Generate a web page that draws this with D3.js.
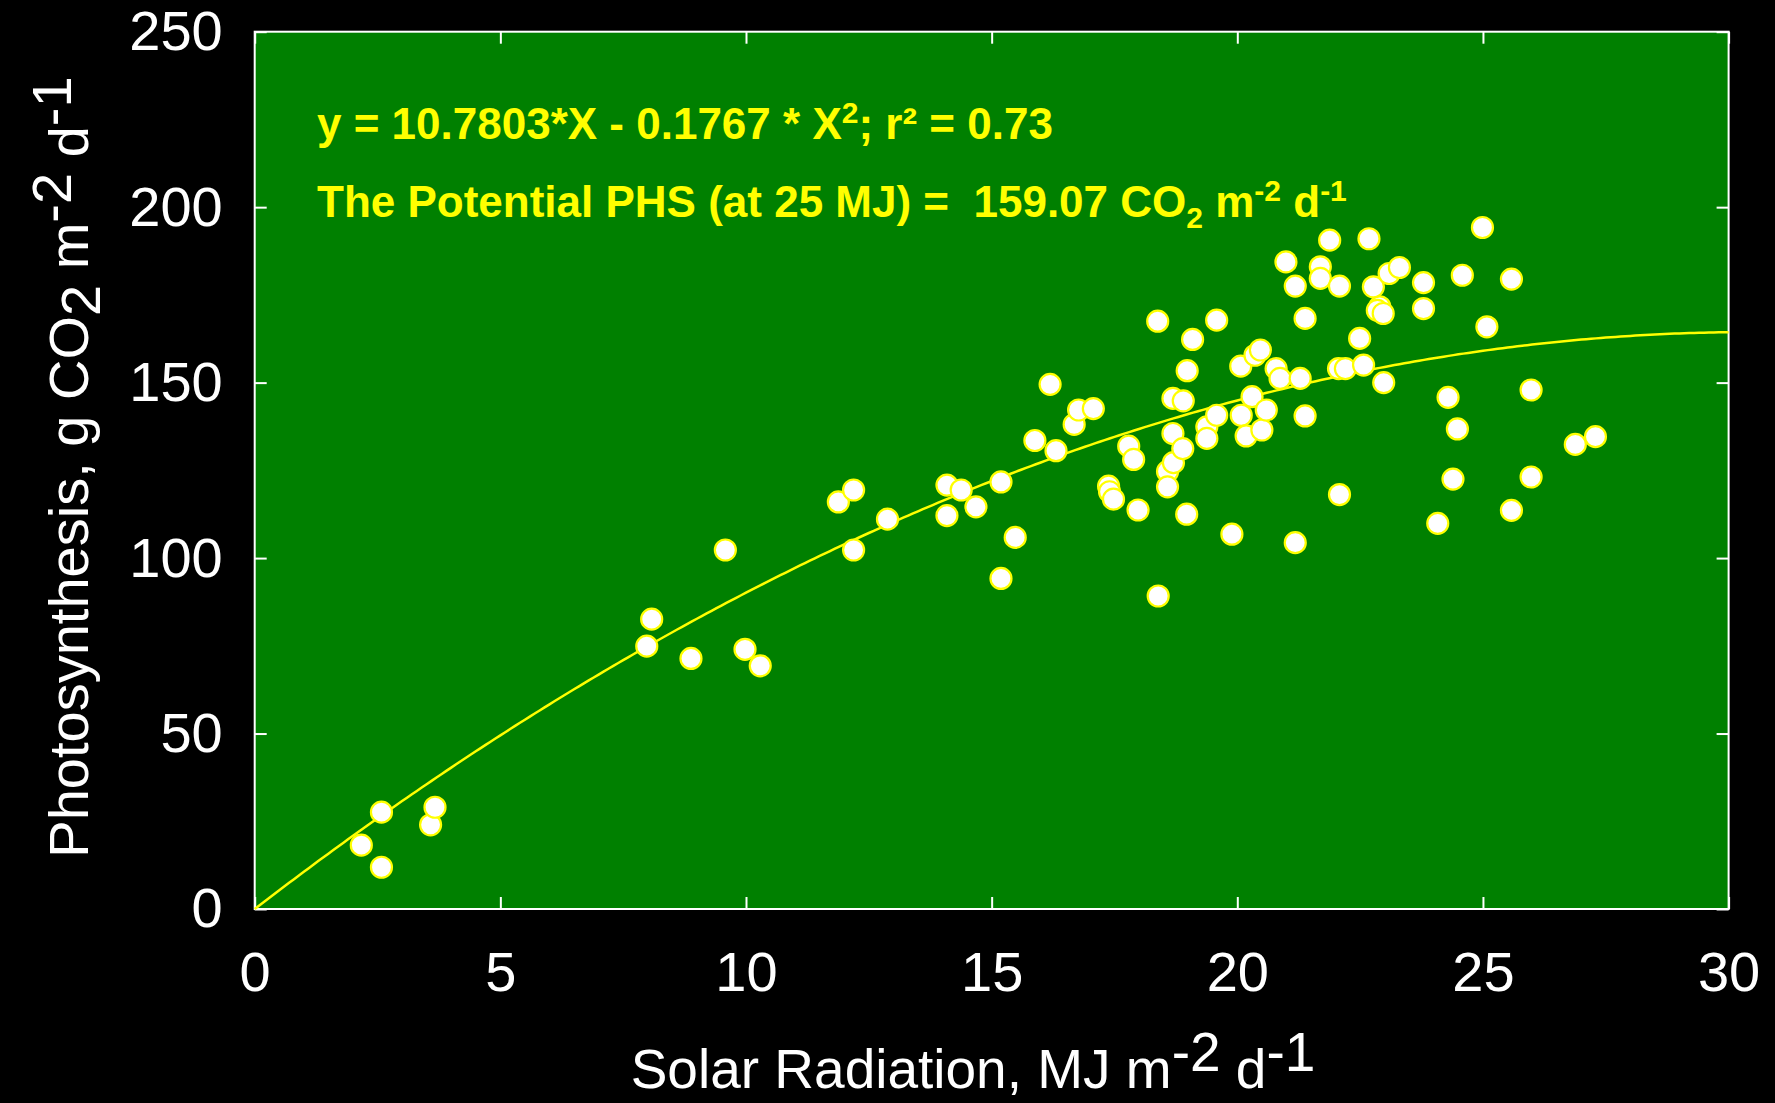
<!DOCTYPE html>
<html>
<head>
<meta charset="utf-8">
<script src="https://cdn.jsdelivr.net/npm/d3@7"></script>
<style>
  html, body { margin: 0; padding: 0; background: #000; }
  svg { display: block; }
  text { font-family: "Liberation Sans", Arial, sans-serif; }
</style>
</head>
<body>
<script>
// ---- Data ----
const solarRadiation = [
  2.17, 2.58, 2.58, 3.58, 3.67,
  7.98, 8.08, 8.88, 9.58, 9.98, 10.29,
  11.88, 12.19, 12.19, 12.88,
  14.09, 14.09, 14.38, 14.68, 15.19, 15.19, 15.48,
  15.88, 16.19, 16.31, 16.68, 16.77, 17.07,
  17.38, 17.40, 17.48, 17.79, 17.89, 17.98,
  18.38, 18.39, 18.58, 18.58, 18.70, 18.69, 18.69, 18.90, 18.89, 18.97, 18.98, 19.09,
  19.38, 19.38, 19.58, 19.58, 19.89,
  20.07, 20.08, 20.18, 20.30, 20.36, 20.47, 20.50, 20.59, 20.79, 20.87,
  20.99, 21.18, 21.18, 21.28, 21.38, 21.38,
  21.69, 21.69, 21.88, 22.08, 22.06, 22.08, 22.20, 22.49, 22.57, 22.68, 22.77,
  22.90, 22.85, 22.97, 22.98, 23.09, 23.30, 23.79, 23.79,
  24.08, 24.29, 24.39, 24.48, 24.58, 24.99, 25.08, 25.58, 25.58,
  25.98, 25.98, 26.88, 27.29
];
const photosynthesis = [
  18.2, 27.6, 11.9, 24.0, 29.0,
  74.9, 82.6, 71.4, 102.3, 74.0, 69.3,
  116.0, 119.4, 102.3, 111.1,
  120.8, 112.1, 119.4, 114.6, 121.7, 94.2, 105.9,
  133.5, 149.5, 130.6, 138.1, 142.2, 142.6,
  120.5, 118.9, 116.8, 131.9, 128.1, 113.7,
  167.5, 89.2, 124.7, 120.3, 127.2, 135.5, 145.5, 144.8, 131.2, 112.5, 153.4, 162.3,
  137.4, 134.1, 140.7, 167.8, 106.8,
  154.7, 140.7, 134.8, 146.0, 157.8, 159.3, 136.5, 142.2, 154.0, 151.2,
  184.4, 177.5, 104.4, 151.2, 168.3, 140.5,
  183.0, 179.7, 190.6, 177.5, 154.0, 118.1, 154.0, 162.6, 155.0, 191.0, 177.3,
  171.6, 170.6, 169.7, 150.0, 181.1, 182.8, 178.5, 171.1,
  109.9, 145.8, 122.5, 136.8, 180.6, 194.2, 165.9, 179.5, 113.6,
  147.9, 123.1, 132.4, 134.6
];
const xTicks = [0, 5, 10, 15, 20, 25, 30];
const yTicks = [0, 50, 100, 150, 200, 250];
const fitA = 10.7803;   // linear coefficient
const fitB = -0.1767;   // quadratic coefficient
const fitDomain = [0, 30];

// ---- Layout ----
const W = 1775, H = 1103;
const plot = { left: 254.7, right: 1728.6, top: 31.7, bottom: 909 };

const svg = d3.select("body").append("svg").attr("width", W).attr("height", H);
svg.append("rect").attr("width", W).attr("height", H).attr("fill", "#000");

const x = d3.scaleLinear().domain([0, 30]).range([plot.left, plot.right]);
const y = d3.scaleLinear().domain([0, 250]).range([plot.bottom, plot.top]);

// plot background
svg.append("rect")
  .attr("x", plot.left).attr("y", plot.top)
  .attr("width", plot.right - plot.left).attr("height", plot.bottom - plot.top)
  .attr("fill", "#008000");

// axes
const tickLen = 12;
function styleAxis(g) {
  g.select(".domain").remove();
  g.selectAll(".tick line").attr("stroke", "#fff").attr("stroke-width", 2);
  g.selectAll(".tick text").attr("fill", "#fff").style("font-size", "56px")
    .style("font-family", "'Liberation Sans', Arial, sans-serif");
}
svg.append("g").attr("transform", `translate(0,${plot.bottom})`)
  .call(d3.axisBottom(x).tickValues(xTicks).tickSize(-tickLen).tickPadding(42).tickFormat(d3.format("d")))
  .call(styleAxis);
svg.append("g").attr("transform", `translate(0,${plot.top})`)
  .call(d3.axisTop(x).tickValues(xTicks).tickSize(-tickLen).tickFormat(""))
  .call(styleAxis);
svg.append("g").attr("transform", `translate(${plot.left},0)`)
  .call(d3.axisLeft(y).tickValues(yTicks).tickSize(-tickLen).tickPadding(32).tickFormat(d3.format("d")))
  .call(styleAxis);
svg.append("g").attr("transform", `translate(${plot.right},0)`)
  .call(d3.axisRight(y).tickValues(yTicks).tickSize(-tickLen).tickFormat(""))
  .call(styleAxis);

// border
svg.append("rect")
  .attr("x", plot.left).attr("y", plot.top)
  .attr("width", plot.right - plot.left).attr("height", plot.bottom - plot.top)
  .attr("fill", "none").attr("stroke", "#fff").attr("stroke-width", 2);

// fitted curve
const curveX = d3.range(fitDomain[0], fitDomain[1] + 0.001, 0.1);
const line = d3.line().x(d => x(d)).y(d => y(fitA * d + fitB * d * d)).curve(d3.curveLinear);
svg.append("path").datum(curveX)
  .attr("d", line).attr("fill", "none").attr("stroke", "#ffff00").attr("stroke-width", 2.5);

// points
svg.append("g").selectAll("circle")
  .data(solarRadiation.map((d, i) => [d, photosynthesis[i]]))
  .join("circle")
  .attr("cx", d => x(d[0])).attr("cy", d => y(d[1]))
  .attr("r", 10.5)
  .attr("fill", "#fff").attr("stroke", "#ffff00").attr("stroke-width", 2.2);

// annotations
const ann = svg.append("g").attr("fill", "#ffff00").style("font-weight", "bold").style("font-size", "44px");
const t1 = ann.append("text").attr("x", 317).attr("y", 139);
t1.append("tspan").text("y = 10.7803*X - 0.1767 * X");
t1.append("tspan").attr("dy", -16).style("font-size", "30px").text("2");
t1.append("tspan").attr("dy", 16).text("; r\u00B2 = 0.73");

const t2 = ann.append("text").attr("x", 317).attr("y", 217).attr("xml:space", "preserve");
t2.append("tspan").text("The Potential PHS (at 25 MJ) =  159.07 CO");
t2.append("tspan").attr("dy", 11).style("font-size", "30px").text("2");
t2.append("tspan").attr("dy", -11).text(" m");
t2.append("tspan").attr("dy", -16).style("font-size", "30px").text("-2");
t2.append("tspan").attr("dy", 16).text(" d");
t2.append("tspan").attr("dy", -16).style("font-size", "30px").text("-1");

// axis titles
const xt = svg.append("text").attr("x", 973).attr("y", 1088)
  .attr("text-anchor", "middle").attr("fill", "#fff").style("font-size", "55px");
xt.append("tspan").text("Solar Radiation, MJ m");
xt.append("tspan").attr("dy", -17).text("-2");
xt.append("tspan").attr("dy", 17).text(" d");
xt.append("tspan").attr("dy", -17).text("-1");

const yt = svg.append("text").attr("transform", "translate(88,467) rotate(-90)")
  .attr("text-anchor", "middle").attr("fill", "#fff").style("font-size", "56px");
yt.append("tspan").text("Photosynthesis, g CO");
yt.append("tspan").attr("dy", 12).text("2");
yt.append("tspan").attr("dy", -12).text(" m");
yt.append("tspan").attr("dy", -17).text("-2");
yt.append("tspan").attr("dy", 17).text(" d");
yt.append("tspan").attr("dy", -17).text("-1");
</script>
</body>
</html>
